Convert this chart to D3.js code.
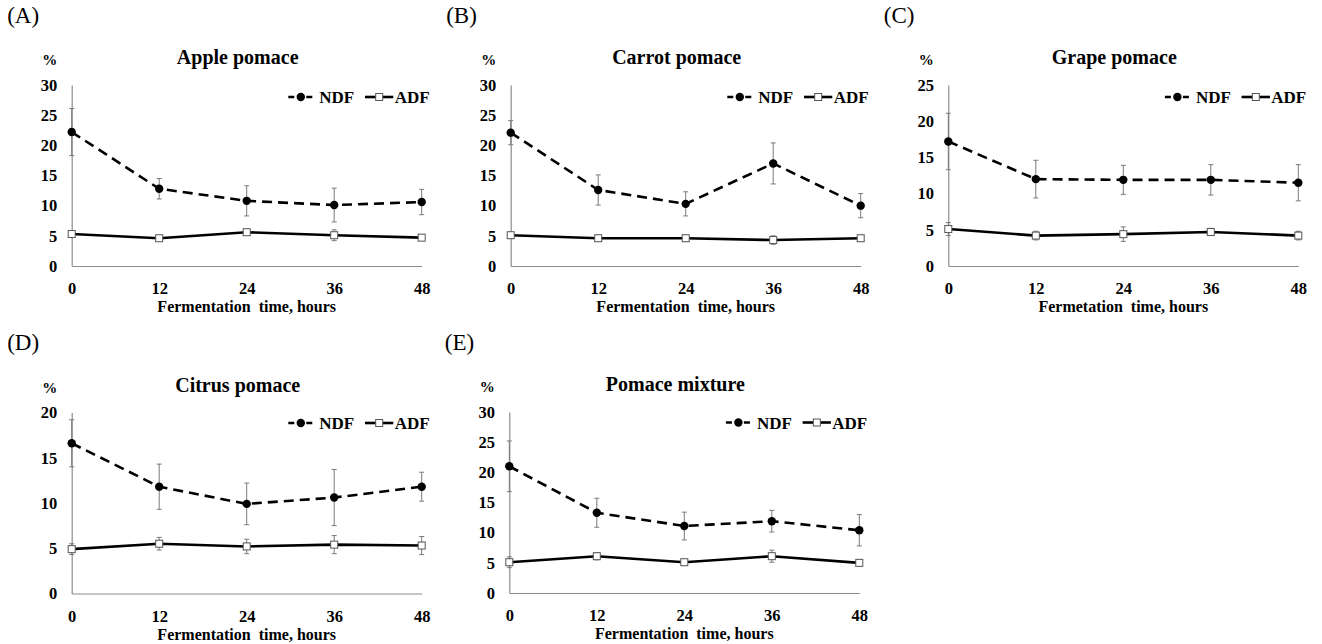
<!DOCTYPE html>
<html>
<head>
<meta charset="UTF-8">
<script src="https://cdn.jsdelivr.net/npm/d3@7"></script>
<style>
    body { margin: 0; background: #fff; }
    text { font-family: 'Liberation Serif', 'Times New Roman', serif; fill: #000; }
    .letter { font-size: 23px; }
    .title { font-size: 20px; font-weight: bold; text-anchor: middle; }
    .pct { font-size: 15px; font-weight: bold; text-anchor: middle; }
    .tick text { font-family: 'Liberation Serif', serif; font-size: 16.5px; font-weight: bold; }
    .axis-title { font-size: 16px; font-weight: bold; text-anchor: middle; white-space: pre; }
    .legend text { font-size: 17px; font-weight: bold; }
</style>
</head>
<body>
<svg id="chart" width="1322" height="644"></svg>
<script>
// sampling times (h)
var hours = [0, 12, 24, 36, 48];

var letters = ["(A)", "(B)", "(C)", "(D)", "(E)"];
var titles = ["Apple pomace", "Carrot pomace", "Grape pomace", "Citrus pomace", "Pomace mixture"];
var xTitles = ["Fermentation  time, hours", "Fermentation  time, hours", "Fermetation  time, hours",
    "Fermentation  time, hours", "Fermentation  time, hours"];
var yMax = [30, 30, 25, 20, 30];

// NDF, % (mean and sd) per panel
var ndfMean = [
    [22.2, 12.8, 10.8, 10.1, 10.6],
    [22.1, 12.6, 10.3, 17.0, 10.0],
    [17.2, 12.0, 11.9, 11.9, 11.5],
    [16.6, 11.8, 9.9, 10.6, 11.8],
    [21.0, 13.3, 11.1, 11.9, 10.4]
];
var ndfSd = [
    [3.9, 1.7, 2.5, 2.8, 2.1],
    [2.0, 2.5, 2.0, 3.4, 2.0],
    [3.9, 2.6, 2.0, 2.1, 2.5],
    [2.6, 2.5, 2.3, 3.1, 1.6],
    [4.2, 2.4, 2.3, 1.8, 2.6]
];

// ADF, % (mean and sd) per panel
var adfMean = [
    [5.3, 4.6, 5.6, 5.1, 4.7],
    [5.1, 4.6, 4.6, 4.3, 4.6],
    [5.1, 4.2, 4.4, 4.7, 4.2],
    [4.9, 5.5, 5.2, 5.4, 5.3],
    [5.1, 6.1, 5.1, 6.1, 5.0]
];
var adfSd = [
    [0.5, 0.4, 0.4, 0.9, 0.4],
    [0.5, 0.5, 0.5, 0.7, 0.5],
    [0.9, 0.6, 1.0, 0.5, 0.6],
    [0.6, 0.7, 0.8, 1.0, 1.0],
    [0.9, 0.6, 0.5, 1.0, 0.5]
];

// where each plot area sits (left of y axis, top)
var layout = [
    { x: 71.7, y: 85 },
    { x: 510.7, y: 85 },
    { x: 948.3, y: 85 },
    { x: 71.7, y: 412.5 },
    { x: 509.3, y: 412 }
];
var w = 350, h = 181;
var axisColor = "#8c8c8c";

var svg = d3.select("#chart");

function drawPanel(i) {
    var L = layout[i].x, T = layout[i].y;
    var g = svg.append("g").attr("transform", "translate(" + L + "," + T + ")");

    var x = d3.scaleLinear().domain([0, 48]).range([0, w]);
    var y = d3.scaleLinear().domain([0, yMax[i]]).range([h, 0]);

    // labels above the plot
    g.append("text").attr("class", "letter").attr("x", -64.5).attr("y", -62.5).text(letters[i]);
    g.append("text").attr("class", "title").attr("x", w / 2 - 9).attr("y", -21).text(titles[i]);
    g.append("text").attr("class", "pct").attr("x", -22).attr("y", -20).text("%");

    // axes
    var yAxis = g.append("g")
        .call(d3.axisLeft(y).tickValues(d3.range(0, yMax[i] + 1, 5)).tickSize(0).tickPadding(14.4));
    var xAxis = g.append("g").attr("transform", "translate(0," + h + ")")
        .call(d3.axisBottom(x).tickValues(hours).tickSize(0).tickPadding(16.5));
    [yAxis, xAxis].forEach(function (a) {
        a.select(".domain").attr("stroke", axisColor).attr("stroke-width", 1.2);
        a.selectAll(".tick text").attr("fill", "#000");
    });

    g.append("text").attr("class", "axis-title")
        .attr("x", w / 2).attr("y", h + 46)
        .text(xTitles[i]);

    // error bars
    var series = [
        { mean: ndfMean[i], sd: ndfSd[i] },
        { mean: adfMean[i], sd: adfSd[i] }
    ];
    series.forEach(function (s) {
        var eb = g.append("g").attr("stroke", "#7a7a7a").attr("stroke-width", 1);
        hours.forEach(function (t, k) {
            var top = y(s.mean[k] + s.sd[k]), bot = y(s.mean[k] - s.sd[k]);
            eb.append("line").attr("x1", x(t)).attr("x2", x(t)).attr("y1", top).attr("y2", bot);
            eb.append("line").attr("x1", x(t) - 2.5).attr("x2", x(t) + 2.5).attr("y1", top).attr("y2", top);
            eb.append("line").attr("x1", x(t) - 2.5).attr("x2", x(t) + 2.5).attr("y1", bot).attr("y2", bot);
        });
    });

    var line = d3.line().x(function (d, k) { return x(hours[k]); }).y(function (d) { return y(d); });

    g.append("path").datum(ndfMean[i]).attr("d", line)
        .attr("fill", "none").attr("stroke", "#000").attr("stroke-width", 2.6)
        .attr("stroke-dasharray", "10,6");
    g.append("path").datum(adfMean[i]).attr("d", line)
        .attr("fill", "none").attr("stroke", "#000").attr("stroke-width", 2.6);

    g.selectAll(".ndf-dot").data(ndfMean[i]).enter().append("circle")
        .attr("cx", function (d, k) { return x(hours[k]); })
        .attr("cy", function (d) { return y(d); })
        .attr("r", 4.2).attr("fill", "#000");

    g.selectAll(".adf-sq").data(adfMean[i]).enter().append("rect")
        .attr("x", function (d, k) { return x(hours[k]) - 3.5; })
        .attr("y", function (d) { return y(d) - 3.5; })
        .attr("width", 7).attr("height", 7)
        .attr("fill", "#fff").attr("stroke", "#555").attr("stroke-width", 1);

    // legend
    var ly = i < 3 ? 12 : 10.5;
    var lg = g.append("g").attr("class", "legend").attr("transform", "translate(" + w + "," + ly + ")");
    lg.append("line").attr("x1", -133.4).attr("x2", -108.4).attr("y1", 0).attr("y2", 0)
        .attr("stroke", "#000").attr("stroke-width", 2.6).attr("stroke-dasharray", "6,3");
    lg.append("circle").attr("cx", -120.9).attr("cy", 0).attr("r", 4.2).attr("fill", "#000");
    lg.append("text").attr("x", -102.4).attr("y", 6).text("NDF");
    lg.append("line").attr("x1", -56.7).attr("x2", -28.4).attr("y1", 0).attr("y2", 0)
        .attr("stroke", "#000").attr("stroke-width", 2.6);
    lg.append("rect").attr("x", -46).attr("y", -3.5).attr("width", 7).attr("height", 7)
        .attr("fill", "#fff").attr("stroke", "#555").attr("stroke-width", 1);
    lg.append("text").attr("x", -27).attr("y", 6).text("ADF");
}

for (var i = 0; i < titles.length; i++) drawPanel(i);
</script>
</body>
</html>
